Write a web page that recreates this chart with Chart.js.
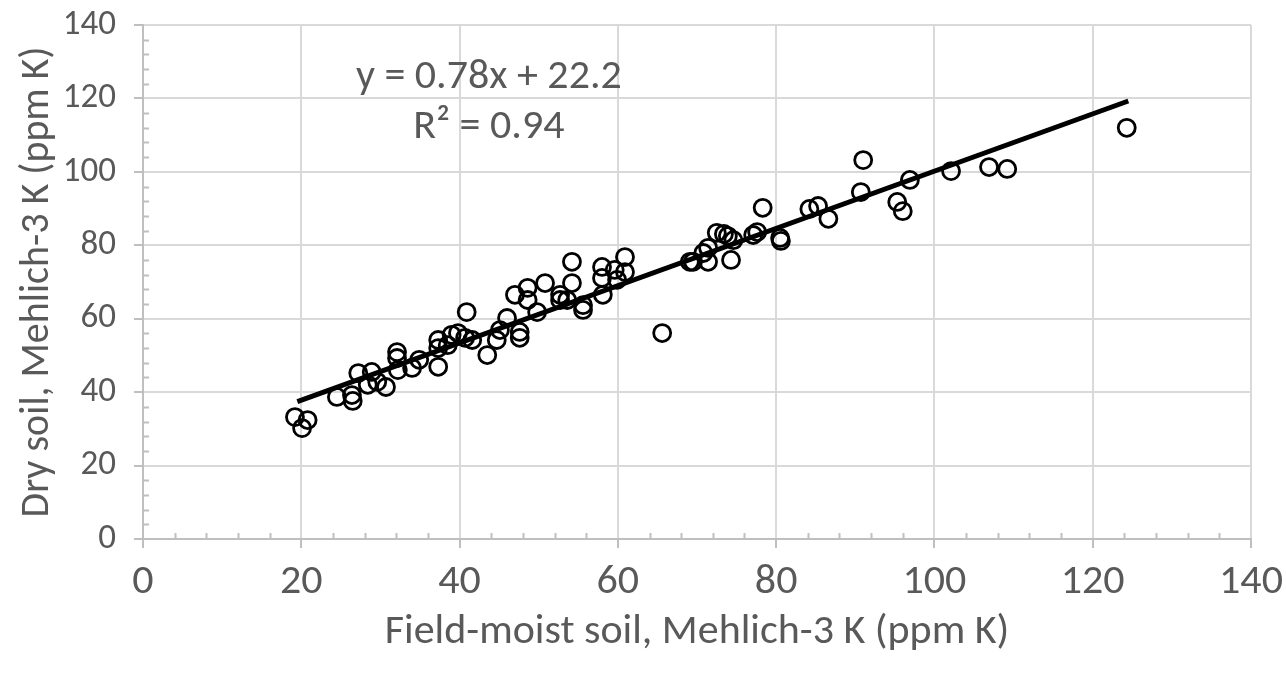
<!DOCTYPE html>
<html>
<head>
<meta charset="utf-8">
<script src="https://cdn.jsdelivr.net/npm/chart.js@4.4.0/dist/chart.umd.min.js"></script>
<style>
  html, body { margin: 0; padding: 0; background: #fff; }
  #wrap { width: 1286px; height: 674px; }
</style>
</head>
<body>
<div id="wrap"><canvas id="soilChart" width="1286" height="674"></canvas></div>
<script>
// field-moist K (x) vs dry K (y), ppm
const fieldMoistK = [
  19.2, 20.1, 20.8, 24.5, 26.4, 26.5, 27.2, 28.4, 28.9, 29.6,
  30.7, 32.1, 32.1, 32.2, 34.0, 34.9, 37.3, 37.3, 37.3, 38.5,
  39.0, 39.8, 40.9, 40.7, 41.6, 43.5, 44.7, 45.1, 46.0, 47.0,
  47.6, 47.6, 48.6, 48.6, 49.8, 50.8, 52.7, 52.7, 53.6, 54.2,
  54.2, 55.6, 55.6, 58.0, 58.0, 58.1, 59.6, 59.9, 60.9, 60.9,
  65.6, 69.1, 69.5, 70.8, 71.4, 71.4, 72.5, 73.4, 73.9, 74.6,
  74.3, 77.1, 77.6, 78.3, 80.5, 80.6, 84.2, 85.3, 86.6, 90.7,
  91.0, 95.3, 96.0, 96.9, 102.1, 106.9, 109.2, 124.3
];
const dryK = [
  33.2, 30.2, 32.4, 38.7, 39.2, 37.6, 45.2, 42.0, 45.5, 42.8,
  41.4, 50.9, 49.3, 46.0, 46.6, 48.8, 54.2, 52.0, 46.9, 52.8,
  55.6, 56.1, 61.8, 54.8, 54.2, 50.1, 54.2, 56.9, 60.2, 66.5,
  56.4, 54.8, 68.4, 65.1, 61.8, 69.7, 66.5, 65.1, 65.1, 75.5,
  69.7, 63.7, 62.4, 74.1, 71.1, 66.5, 73.3, 70.6, 76.8, 72.7,
  56.1, 75.5, 75.5, 77.9, 79.3, 75.5, 83.4, 83.1, 82.5, 81.4,
  76.0, 82.8, 83.6, 90.2, 82.0, 81.2, 89.9, 90.7, 87.2, 94.5,
  103.2, 91.8, 89.3, 97.8, 100.2, 101.3, 100.8, 112.0
];

// linear trendline end points (y = 0.78x + 22.2)
const trendX = [19.5, 124.5];
const trendY = [37.4, 119.3];
const trendLabel = ["y = 0.78x + 22.2", "R\u00b2 = 0.94"];

const axisMin = 0, axisMax = 140, majorStep = 20, minorStep = 4;

const textColor = "#595959";
const gridColor = "#d9d9d9";
const axisColor = "#bfbfbf";
const fontFamily = "Carlito, 'Open Sans', sans-serif";

const points = fieldMoistK.map((x, i) => ({ x: x, y: dryK[i] }));
const trend = trendX.map((x, i) => ({ x: x, y: trendY[i] }));

// Excel-style minor ticks (inside the plot) + trendline equation
const extras = {
  id: "extras",
  beforeDatasetsDraw(chart) {
    const ctx = chart.ctx;
    const xs = chart.scales.x, ys = chart.scales.y;
    ctx.save();
    ctx.strokeStyle = axisColor;
    ctx.lineWidth = 2;
    ctx.beginPath();
    for (let v = axisMin + minorStep; v < axisMax; v += minorStep) {
      if (v % majorStep === 0) continue;
      const px = Math.round(xs.getPixelForValue(v)) + 0.5;
      ctx.moveTo(px, ys.bottom);
      ctx.lineTo(px, ys.bottom - 6);
      const py = Math.round(ys.getPixelForValue(v)) + 0.5;
      ctx.moveTo(xs.left, py);
      ctx.lineTo(xs.left + 6, py);
    }
    ctx.stroke();
    ctx.restore();
  },
  afterDatasetsDraw(chart) {
    const ctx = chart.ctx;
    const xs = chart.scales.x, ys = chart.scales.y;
    ctx.save();
    ctx.fillStyle = textColor;
    ctx.font = "42px " + fontFamily;
    ctx.textAlign = "center";
    ctx.textBaseline = "middle";
    ctx.fillText(trendLabel[0], xs.getPixelForValue(43.7), ys.getPixelForValue(125.6));
    ctx.fillText(trendLabel[1], xs.getPixelForValue(43.7), ys.getPixelForValue(112.0));
    ctx.restore();
  }
};

new Chart(document.getElementById("soilChart").getContext("2d"), {
  type: "scatter",
  data: {
    datasets: [
      {
        label: "Samples",
        data: points,
        pointStyle: "circle",
        pointRadius: 8.5,
        pointHoverRadius: 8.5,
        borderColor: "#000",
        borderWidth: 2.8,
        backgroundColor: "rgba(0,0,0,0)",
        order: 2
      },
      {
        label: "Linear fit",
        type: "line",
        data: trend,
        borderColor: "#000",
        borderWidth: 5,
        pointRadius: 0,
        fill: false,
        order: 1
      }
    ]
  },
  options: {
    responsive: false,
    animation: false,
    devicePixelRatio: 1,
    layout: {
      padding: { left: 0, top: 25, right: 35, bottom: 0 }
    },
    plugins: {
      legend: { display: false },
      tooltip: { enabled: false }
    },
    scales: {
      x: {
        type: "linear",
        min: axisMin,
        max: axisMax,
        afterFit(scale) {
          scale.height = 135;
          scale.paddingLeft = 0;
          scale.paddingRight = 0;
        },
        ticks: {
          stepSize: majorStep,
          color: textColor,
          font: { family: fontFamily, size: 42 },
          padding: 9,
          maxRotation: 0
        },
        grid: {
          color: gridColor,
          lineWidth: 2,
          tickColor: axisColor,
          tickLength: 9,
          tickWidth: 2
        },
        border: { color: axisColor, width: 2 },
        title: {
          display: true,
          text: "Field-moist soil, Mehlich-3 K (ppm K)",
          color: textColor,
          font: { family: fontFamily, size: 42 },
          padding: { top: 0, bottom: 16 }
        }
      },
      y: {
        type: "linear",
        min: axisMin,
        max: axisMax,
        afterFit(scale) {
          scale.width = 143;
          scale.paddingTop = 0;
          scale.paddingBottom = 0;
        },
        ticks: {
          stepSize: majorStep,
          color: textColor,
          font: { family: fontFamily, size: 35 },
          padding: 18
        },
        grid: {
          color: gridColor,
          lineWidth: 2,
          tickColor: axisColor,
          tickLength: 9,
          tickWidth: 2
        },
        border: { color: axisColor, width: 2 },
        title: {
          display: true,
          text: "Dry soil, Mehlich-3 K (ppm K)",
          color: textColor,
          font: { family: fontFamily, size: 40 },
          padding: { top: 14, bottom: 0 }
        }
      }
    }
  },
  plugins: [extras]
});
</script>
</body>
</html>
